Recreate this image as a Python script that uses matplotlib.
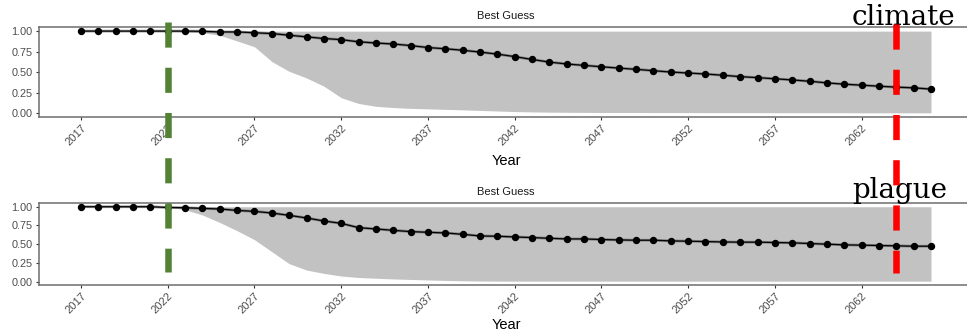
import numpy as np
import matplotlib
matplotlib.use("Agg")
import matplotlib.pyplot as plt
from matplotlib.lines import Line2D
from matplotlib.transforms import blended_transform_factory

years = np.arange(2017, 2067)
tick_years = [2017, 2022, 2027, 2032, 2037, 2042, 2047, 2052, 2057, 2062]

climate_mean = [1.0, 1.0, 1.0, 1.0, 1.0, 1.0, 1.0, 0.998, 0.99, 0.99,
                0.98, 0.97, 0.95, 0.93, 0.91, 0.896, 0.87, 0.855, 0.843, 0.824,
                0.80, 0.785, 0.767, 0.745, 0.72, 0.69, 0.655, 0.623, 0.60, 0.583,
                0.566, 0.55, 0.535, 0.518, 0.502, 0.49, 0.478, 0.463, 0.446, 0.434,
                0.42, 0.406, 0.39, 0.37, 0.354, 0.342, 0.33, 0.318, 0.31, 0.294]
climate_low = [1.0, 1.0, 1.0, 1.0, 1.0, 1.0, 0.99, 0.98, 0.95, 0.88,
               0.81, 0.63, 0.51, 0.43, 0.33, 0.19, 0.12, 0.085, 0.07, 0.06,
               0.054, 0.048, 0.042, 0.035, 0.028, 0.021, 0.017, 0.014, 0.012, 0.011,
               0.01, 0.01, 0.01, 0.009, 0.009, 0.009, 0.008, 0.008, 0.008, 0.008,
               0.007, 0.007, 0.007, 0.007, 0.007, 0.006, 0.006, 0.006, 0.006, 0.006]
climate_high = [1.0] * 50

plague_mean = [1.0, 1.0, 1.0, 1.0, 1.0, 0.99, 0.987, 0.978, 0.97, 0.951,
               0.938, 0.916, 0.885, 0.85, 0.81, 0.778, 0.721, 0.703, 0.685, 0.668,
               0.659, 0.65, 0.632, 0.61, 0.606, 0.597, 0.588, 0.579, 0.57, 0.57,
               0.562, 0.557, 0.553, 0.553, 0.544, 0.54, 0.535, 0.53, 0.527, 0.527,
               0.522, 0.518, 0.509, 0.50, 0.491, 0.487, 0.482, 0.478, 0.473, 0.473]
plague_low = [1.0, 1.0, 1.0, 1.0, 1.0, 1.0, 0.96, 0.89, 0.79, 0.68,
              0.56, 0.40, 0.24, 0.155, 0.11, 0.075, 0.055, 0.045, 0.036, 0.029,
              0.022, 0.016, 0.011, 0.008, 0.007, 0.006, 0.006, 0.006, 0.006, 0.006,
              0.006, 0.006, 0.006, 0.006, 0.006, 0.006, 0.006, 0.006, 0.006, 0.006,
              0.006, 0.006, 0.006, 0.006, 0.006, 0.006, 0.006, 0.006, 0.006, 0.006]
plague_high = [1.0] * 50

event_years = [2022, 2064]
event_colors = ["#548235", "#ff0000"]
panel_labels = ["climate", "plague"]

plt.rcParams['font.family'] = ['Liberation Sans', 'DejaVu Sans']

W, H = 967, 333
fig = plt.figure(figsize=(W / 100, H / 100), dpi=100)
ax1 = fig.add_axes([38.5 / W, 1 - 117 / H, 935 / W, 90 / H])
ax2 = fig.add_axes([38.5 / W, 1 - 285 / H, 935 / W, 82 / H])


def draw_panel(ax, mean, low, high, xpad):
    ax.fill_between(years, low, high, color="#c2c2c2", linewidth=0, zorder=1)
    ax.plot(years, mean, color="#5a5a5a", lw=2.0, alpha=0.6, zorder=2)
    ax.plot(years, mean, color="black", lw=0.9, zorder=3)
    ax.plot(years, mean, "o", color="black", ms=4.3, zorder=4)
    ax.set_xlim(2014.55, 2068.45)
    ax.set_ylim(-0.045, 1.05)
    ax.set_yticks([0, 0.25, 0.5, 0.75, 1.0])
    ax.set_yticklabels(["0.00", "0.25", "0.50", "0.75", "1.00"])
    ax.set_xticks(tick_years)
    ax.set_xticklabels([str(y) for y in tick_years])
    for lab in ax.get_xticklabels():
        lab.set_rotation(45)
        lab.set_ha("right")
        lab.set_va("top")
        lab.set_rotation_mode("anchor")
    ax.tick_params(length=2.5, width=0.8, color="#333333", labelsize=7.8,
                   labelcolor="#4d4d4d", pad=2)
    ax.tick_params(axis="x", labelsize=8)
    for side in ["left", "bottom", "top"]:
        ax.spines[side].set_color("#6e6e6e")
        ax.spines[side].set_linewidth(1.1)
    ax.spines["right"].set_visible(False)
    ax.set_title("Best Guess", fontsize=8, color="#1a1a1a", pad=6)
    ax.set_xlabel("Year", fontsize=10.5, labelpad=xpad)


draw_panel(ax1, climate_mean, climate_low, climate_high, 4.5)
draw_panel(ax2, plague_mean, plague_low, plague_high, 1.5)

trans = blended_transform_factory(ax1.transData, fig.transFigure)
spans = [(1 - 22 / H, 1 - 272 / H), (1 - 24 / H, 1 - 273 / H)]
for yr, col, (y0, y1) in zip(event_years, event_colors, spans):
    ln = Line2D([yr, yr], [y0, y1], transform=trans, color=col, lw=4.7,
                linestyle=(0, (3.85, 3.08)), solid_capstyle="butt",
                dash_capstyle="butt", zorder=10, clip_on=False)
    fig.add_artist(ln)

fig.text(852 / W, 1 - 25 / H, panel_labels[0], family="DejaVu Serif",
         fontsize=20, va="baseline", ha="left", zorder=9)
fig.text(852 / W, 1 - 198 / H, panel_labels[1], family="DejaVu Serif",
         fontsize=20, va="baseline", ha="left", zorder=9)

fig.savefig("out.png", dpi=100)
